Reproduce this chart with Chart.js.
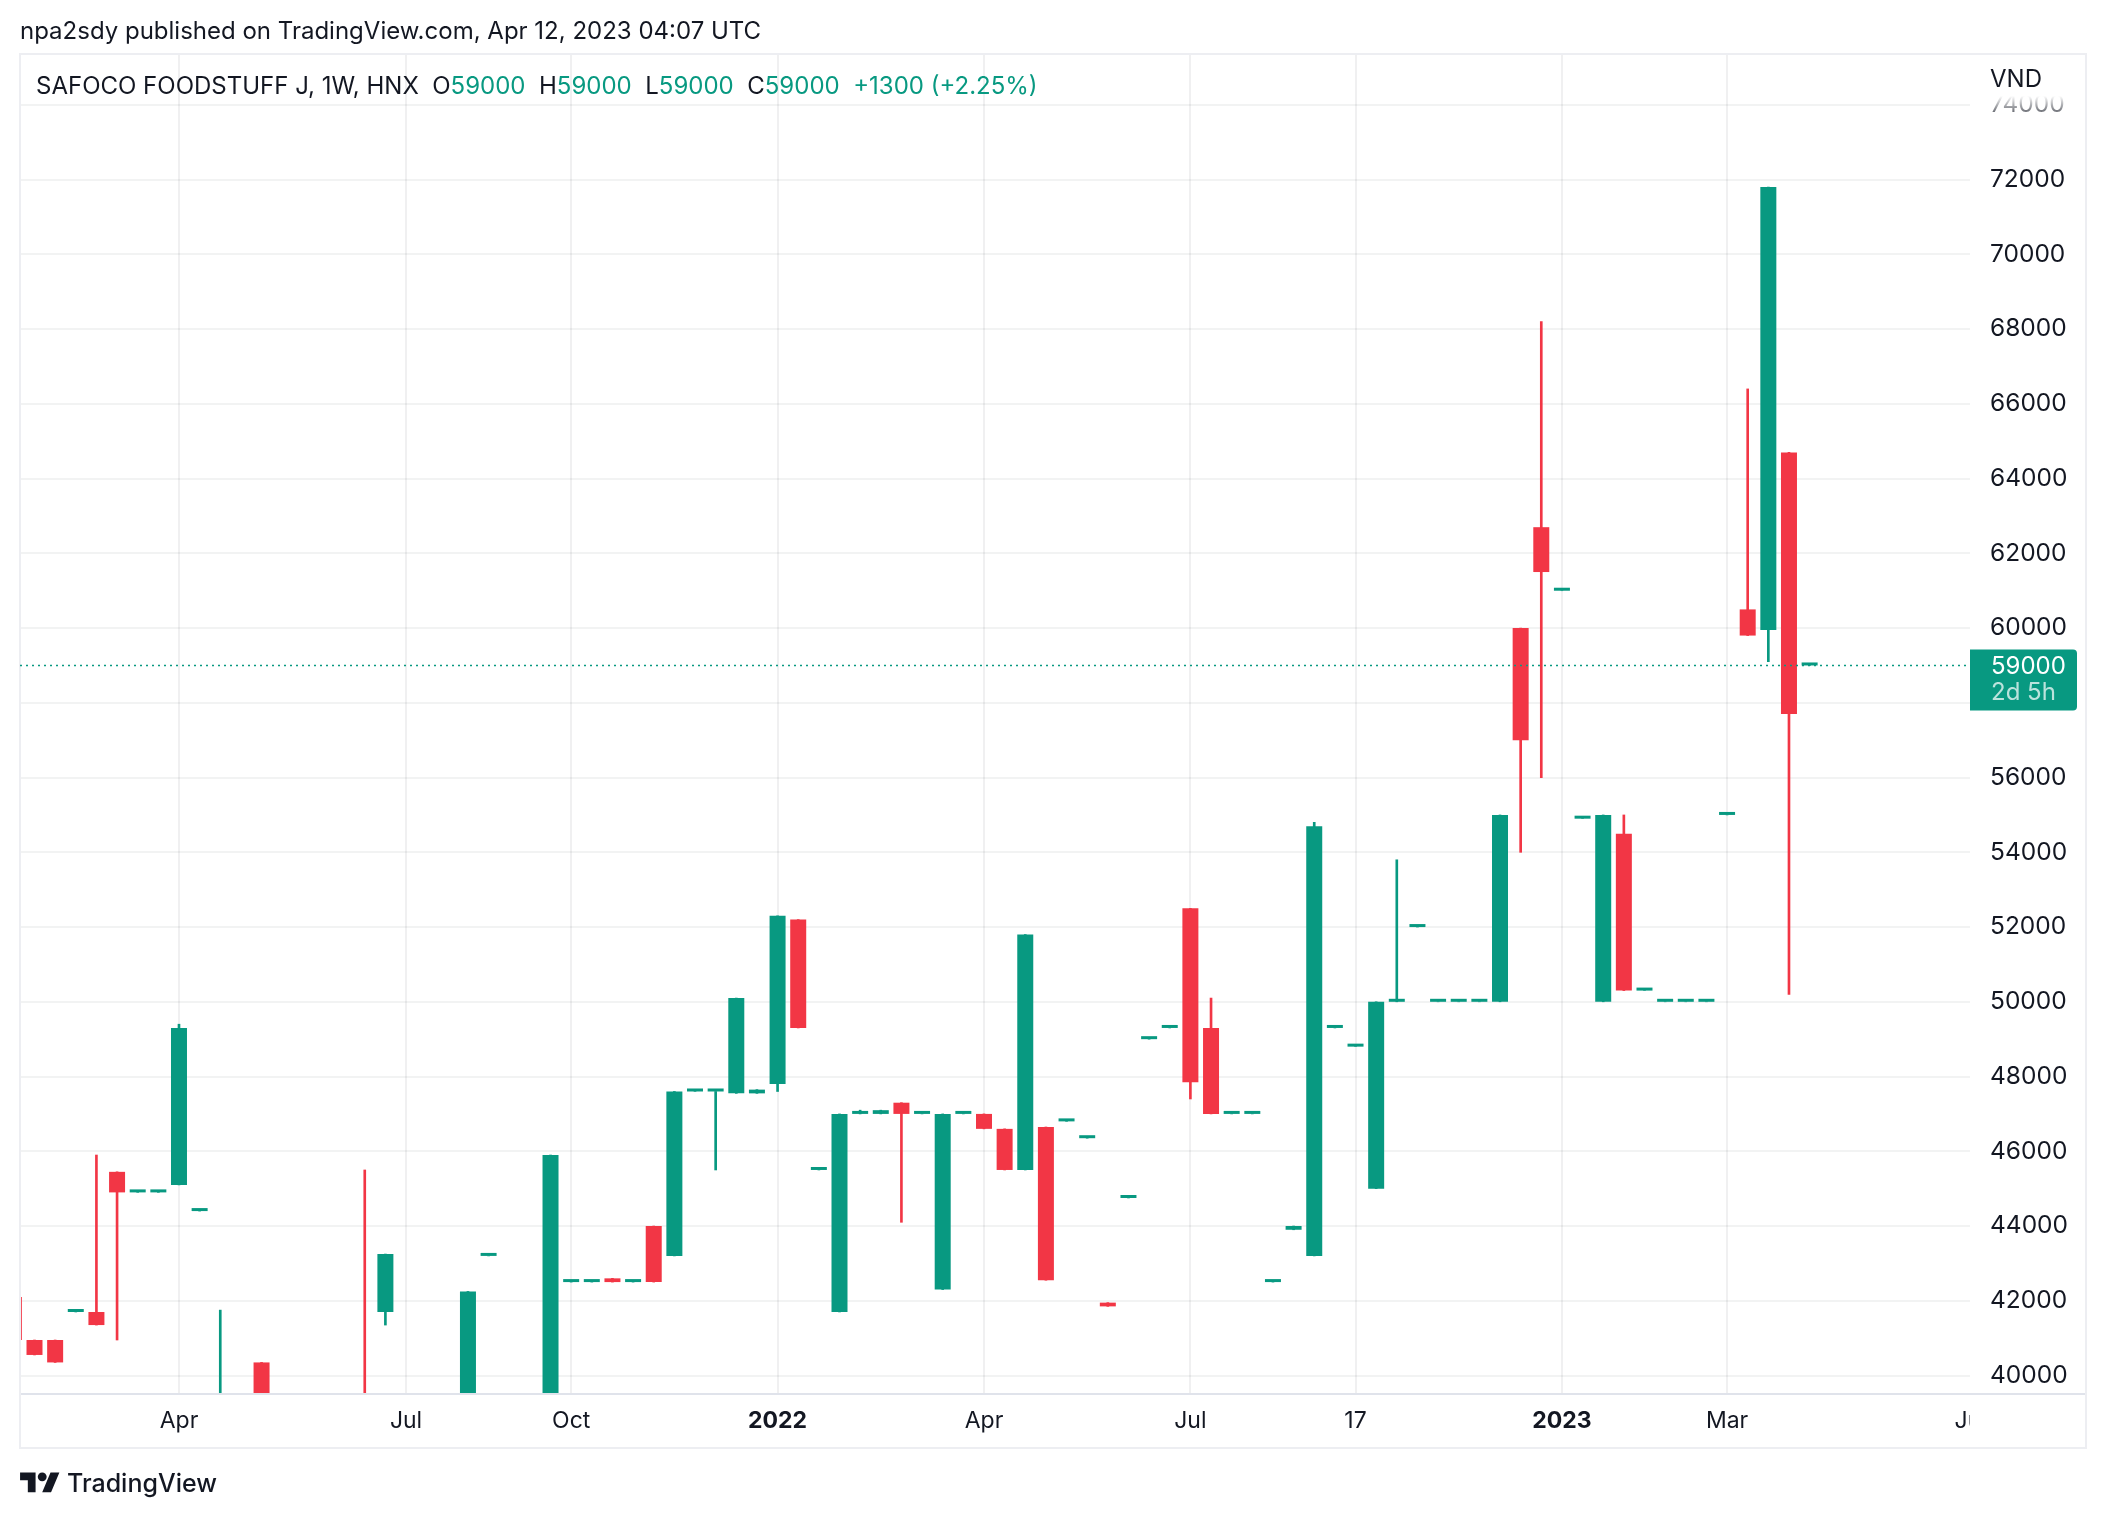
<!DOCTYPE html>
<html><head><meta charset="utf-8">
<script src="https://cdn.jsdelivr.net/npm/chart.js@4.4.0/dist/chart.umd.min.js"></script>
<style>
html,body{margin:0;padding:0;background:#fff;}
body{width:2106px;height:1518px;position:relative;overflow:hidden;font-family:Inter,'Noto Sans',sans-serif;color:#131722;}
#wrap{position:absolute;left:0;top:0;width:2106px;height:1518px;}
.t{position:absolute;white-space:pre;}
.g{color:#089981;}
#logo{position:absolute;left:20px;top:1468px;display:block;}
</style></head><body>
<div id="wrap"><canvas id="c" width="2106" height="1518"></canvas></div>
<div class="t" style="left:20px;top:17px;font-size:24px;line-height:28px;">npa2sdy published on TradingView.com, Apr 12, 2023 04:07 UTC</div>
<div class="t" style="left:36px;top:72px;font-size:24px;line-height:28px;">SAFOCO FOODSTUFF J, 1W, HNX  O<span class="g">59000</span>  H<span class="g">59000</span>  L<span class="g">59000</span>  C<span class="g">59000</span>  <span class="g">+1300 (+2.25%)</span></div>
<svg id="logo" width="40" height="31" viewBox="0 0 36 28"><path fill="#131722" d="M14 22H7V11H0V4h14v18zM28 22h-8l7.5-18h8L28 22z"/><circle fill="#131722" cx="20" cy="8" r="4"/></svg>
<div class="t" style="left:67px;top:1467px;font-size:25px;line-height:32px;font-weight:500;">TradingView</div>
<script>
// ---- data: weekly bars, index -1 .. 86 (bar index on the time axis) ----
const firstIndex = -1;
const opens  = [42100,40950,40950,41700,41700,45450,44900,44900,45100,44400,39000,null,40350,null,null,null,null,39400,41700,null,null,null,39300,43200,null,null,39200,42500,42500,42600,42500,44000,43200,47600,47600,47550,47550,47800,52200,45500,41700,47000,47000,47300,47000,42300,47000,47000,46600,45500,46650,46800,46350,41950,44750,49000,49300,52500,49300,47000,47000,42500,43900,43200,49300,48800,45000,50000,52000,50000,50000,50000,50000,60000,62700,61000,54900,50000,54500,50300,50000,50000,50000,55000,60500,59950,64700,59000];
const highs  = [42100,40950,40950,41700,45900,45450,44900,44900,49400,44400,41750,null,40350,null,null,null,null,45500,43250,null,null,null,42250,43200,null,null,45900,42500,42500,42600,42500,44000,47600,47600,47600,50100,47650,52300,52200,45500,47000,47100,47100,47300,47000,47000,47000,47000,46600,51800,46650,46800,46350,41950,44750,49000,49300,52500,50100,47000,47000,42500,44000,54800,49300,48800,50000,53800,52000,50000,50000,50000,55000,60000,68200,61000,54900,55000,55000,50300,50000,50000,50000,55000,66400,71800,64700,59000];
const lows   = [40950,40550,40350,41700,41350,40950,44900,44900,45100,44400,38900,null,39000,null,null,null,null,39000,41350,null,null,null,39300,43200,null,null,39200,42500,42500,42500,42500,42500,43200,47600,45500,47550,47550,47600,49300,45500,41700,47000,47000,44100,47000,42300,47000,46600,45500,45500,42550,46800,46350,41850,44750,49000,49300,47400,47000,47000,47000,42500,43900,43200,49300,48800,45000,50000,52000,50000,50000,50000,50000,54000,56000,61000,54900,50000,50300,50300,50000,50000,50000,55000,59800,59100,50200,59000];
const closes = [40950,40550,40350,41700,41350,44900,44900,44900,49300,44400,39400,null,39100,null,null,null,null,39100,43250,null,null,null,42250,43200,null,null,45900,42500,42500,42500,42500,42500,47600,47600,47600,50100,47650,52300,49300,45500,47000,47000,47100,47000,47000,47000,47000,46600,45500,51800,42550,46800,46350,41850,44750,49000,49300,47850,47000,47000,47000,42500,44000,54700,49300,48800,50000,50000,52000,50000,50000,50000,55000,57000,61500,61000,54900,55000,50300,50300,50000,50000,50000,55000,59800,71800,57700,59000];
const xTickIndex  = [7, 18, 26, 36, 46, 56, 64, 74, 82];
const xTickLabels = ['Apr','Jul','Oct','2022','Apr','Jul','17','2023','Mar'];
const futureTickIndex = 94, futureTickLabel = 'Jun';
const yTicks = [40000,42000,44000,46000,48000,50000,52000,54000,56000,58000,60000,62000,64000,66000,68000,70000,72000,74000];
const lastPrice = 59000, lastPriceTimer = '2d 5h', currency = 'VND';
const viewMin = 39532, viewMax = 75362, viewLeft = -0.7025, viewRight = 93.77;

const GREEN = '#089981', RED = '#F23645';
const bodies = [], wicks = [], bodyCols = [], wickCols = [];
for (let k = 0; k < opens.length; k++) {
  if (opens[k] === null) continue;
  const idx = firstIndex + k;
  const col = closes[k] >= opens[k] ? GREEN : RED;
  bodies.push({x: idx, y: [opens[k], closes[k]]}); bodyCols.push(col);
  wicks.push({x: idx, y: [lows[k], highs[k]]}); wickCols.push(col);
}
const FONT = 'Inter, "Noto Sans", sans-serif';
const FRAME = {l: 20, t: 54, r: 2086, b: 1448};

const tvPlugin = {
  id: 'tv',
  beforeDraw(chart) {
    const ctx = chart.ctx;
    ctx.save(); ctx.fillStyle = '#fff'; ctx.fillRect(0, 0, chart.width, chart.height); ctx.restore();
  },
  afterDraw(chart) {
    const {ctx, chartArea: a, scales: {x, y}} = chart;
    ctx.save();
    // axis line under plot
    ctx.strokeStyle = '#E0E3EB'; ctx.lineWidth = 2;
    ctx.beginPath(); ctx.moveTo(FRAME.l, a.bottom + 1); ctx.lineTo(FRAME.r, a.bottom + 1); ctx.stroke();
    // frame
    ctx.strokeStyle = '#EDEEF2'; ctx.lineWidth = 2;
    ctx.strokeRect(FRAME.l, FRAME.t, FRAME.r - FRAME.l, FRAME.b - FRAME.t);
    // future time label, clipped by the price scale
    ctx.save();
    ctx.beginPath(); ctx.rect(a.left, a.bottom + 2, a.right - a.left, FRAME.b - a.bottom - 4); ctx.clip();
    ctx.fillStyle = '#131722'; ctx.font = '23px ' + FONT; ctx.textAlign = 'center'; ctx.textBaseline = 'middle';
    ctx.fillText(futureTickLabel, x.getPixelForValue(futureTickIndex), a.bottom + 28);
    ctx.restore();
    // dotted last-price line
    const py = Math.round(y.getPixelForValue(lastPrice)) + 0.5;
    ctx.strokeStyle = GREEN; ctx.lineWidth = 1.5; ctx.setLineDash([2, 4]);
    ctx.beginPath(); ctx.moveTo(a.left, py); ctx.lineTo(a.right, py); ctx.stroke();
    ctx.setLineDash([]);
    // last price label
    const bx = a.right, bw = 107, btop = py - 16, bh = 61, r = 4;
    ctx.fillStyle = GREEN;
    ctx.beginPath();
    ctx.moveTo(bx, btop); ctx.lineTo(bx + bw - r, btop); ctx.quadraticCurveTo(bx + bw, btop, bx + bw, btop + r);
    ctx.lineTo(bx + bw, btop + bh - r); ctx.quadraticCurveTo(bx + bw, btop + bh, bx + bw - r, btop + bh);
    ctx.lineTo(bx, btop + bh); ctx.closePath(); ctx.fill();
    ctx.font = '24px ' + FONT; ctx.textAlign = 'left'; ctx.textBaseline = 'middle';
    ctx.fillStyle = '#ffffff'; ctx.fillText(String(lastPrice), bx + 21, py + 1);
    ctx.fillStyle = 'rgba(255,255,255,0.72)'; ctx.fillText(lastPriceTimer, bx + 21, py + 27);
    // fade at top of price scale + currency
    const gr = ctx.createLinearGradient(0, 96, 0, 118);
    gr.addColorStop(0, 'rgba(255,255,255,1)'); gr.addColorStop(1, 'rgba(255,255,255,0.15)');
    ctx.fillStyle = '#fff'; ctx.fillRect(a.right + 1, FRAME.t + 1, FRAME.r - a.right - 2, 96 - FRAME.t - 1);
    ctx.fillStyle = gr; ctx.fillRect(a.right + 1, 96, FRAME.r - a.right - 2, 22);
    ctx.fillStyle = '#131722'; ctx.font = '24px ' + FONT; ctx.textBaseline = 'middle';
    ctx.fillText(currency, a.right + 20, 80);
    ctx.restore();
  }
};

new Chart(document.getElementById('c'), {
  type: 'bar',
  data: {
    datasets: [
      {data: bodies, backgroundColor: bodyCols, grouped: false, barPercentage: 0.775, categoryPercentage: 1, minBarLength: 3, clip: 0, borderWidth: 0},
      {data: wicks, backgroundColor: wickCols, grouped: false, barThickness: 2, clip: 0, borderWidth: 0}
    ]
  },
  options: {
    responsive: false, animation: false, devicePixelRatio: 1,
    layout: {padding: {left: FRAME.l, top: FRAME.t, right: 2106 - FRAME.r, bottom: 1518 - FRAME.b}},
    plugins: {legend: {display: false}, tooltip: {enabled: false}, title: {display: false}},
    scales: {
      x: {
        type: 'linear', min: viewLeft, max: viewRight, offset: false,
        grid: {color: 'rgba(42,46,57,0.07)', lineWidth: 2, drawTicks: false, offset: false},
        border: {display: false},
        afterBuildTicks: s => { s.ticks = xTickIndex.map(v => ({value: v})); },
        afterFit: s => { s.height = 55; s.paddingLeft = 0; s.paddingRight = 0; },
        ticks: {
          autoSkip: false, maxRotation: 0, padding: 14, color: '#131722',
          font: c => ({family: FONT, size: 23, weight: (c.tick && /^\d{4}$/.test(xTickLabels[xTickIndex.indexOf(c.tick.value)])) ? 'bold' : 'normal'}),
          callback: v => xTickLabels[xTickIndex.indexOf(v)]
        }
      },
      y: {
        position: 'right', min: viewMin, max: viewMax,
        grid: {color: 'rgba(42,46,57,0.06)', lineWidth: 2, drawTicks: false},
        border: {display: false},
        afterBuildTicks: s => { s.ticks = yTicks.map(v => ({value: v})); },
        afterFit: s => { s.width = 116; s.paddingTop = 0; s.paddingBottom = 0; },
        ticks: {padding: 20, color: '#131722', font: {family: FONT, size: 24.5}, callback: v => String(v)}
      }
    }
  },
  plugins: [tvPlugin]
});
</script>
</body></html>
